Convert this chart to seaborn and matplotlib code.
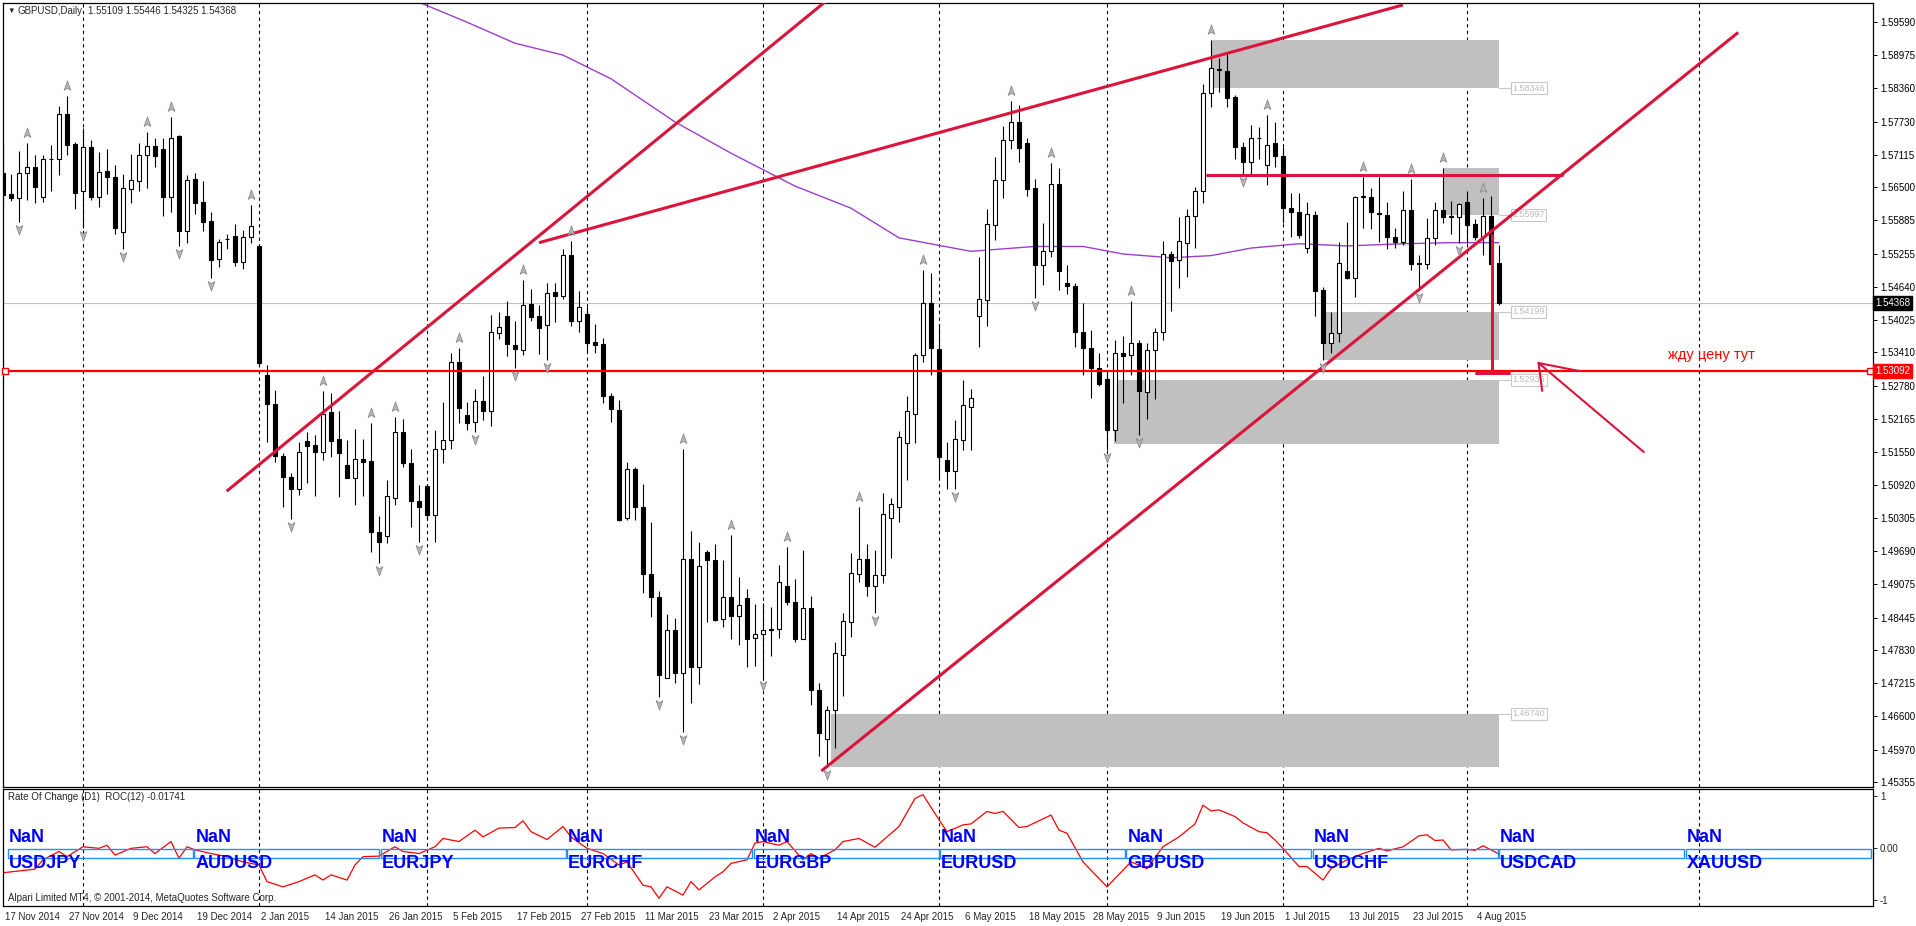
import numpy as np
import matplotlib
matplotlib.use("Agg")
import matplotlib.pyplot as plt
import matplotlib.transforms as mtransforms
from matplotlib.path import Path
from matplotlib.patches import Rectangle
import seaborn as sns

sns.set_style("white")
plt.rcParams['font.family'] = ['Liberation Sans', 'DejaVu Sans']

# ---- GBPUSD daily candles (17 Nov 2014 .. 7 Aug 2015) ----
opens = [1.5678, 1.5638, 1.5630, 1.5677, 1.5688, 1.5633, 1.5703, 1.5703, 1.5786, 1.5731,
         1.5644, 1.5725, 1.5633, 1.5681, 1.5669, 1.5568, 1.5647, 1.5662, 1.5710, 1.5727,
         1.5721, 1.5633, 1.5745, 1.5570, 1.5666, 1.5623, 1.5588, 1.5517, 1.5555, 1.5560,
         1.5513, 1.5558, 1.5542, 1.5303, 1.5249, 1.5152, 1.5114, 1.5092, 1.5180, 1.5173,
         1.5160, 1.5234, 1.5184, 1.5136, 1.5112, 1.5146, 1.5143, 1.5011, 1.5003, 1.5075,
         1.5196, 1.5139, 1.5069, 1.5097, 1.5042, 1.5166, 1.5182, 1.5326, 1.5228, 1.5215,
         1.5254, 1.5236, 1.5381, 1.5412, 1.5358, 1.5349, 1.5434, 1.5412, 1.5395, 1.5456,
         1.5450, 1.5525, 1.5403, 1.5416, 1.5363, 1.5360, 1.5264, 1.5237, 1.5038, 1.5129,
         1.5057, 1.4933, 1.4890, 1.4741, 1.4830, 1.4749, 1.4961, 1.4760, 1.4975, 1.4959,
         1.4850, 1.4890, 1.4856, 1.4889, 1.4815, 1.4822, 1.4829, 1.4832, 1.4912, 1.4882,
         1.4813, 1.4871, 1.4719, 1.4627, 1.4682, 1.4783, 1.4845, 1.4934, 1.4962, 1.4911,
         1.4931, 1.5038, 1.5058, 1.5177, 1.5231, 1.5339, 1.5437, 1.5351, 1.5145, 1.5124,
         1.5182, 1.5244, 1.5412, 1.5442, 1.5580, 1.5665, 1.5739, 1.5771, 1.5733, 1.5649,
         1.5507, 1.5532, 1.5656, 1.5474, 1.5467, 1.5383, 1.5352, 1.5315, 1.5295, 1.5201,
         1.5343, 1.5339, 1.5361, 1.5271, 1.5348, 1.5383, 1.5527, 1.5515, 1.5547, 1.5597,
         1.5644, 1.5826, 1.5870, 1.5866, 1.5818, 1.5725, 1.5698, 1.5743, 1.5693, 1.5732,
         1.5709, 1.5612, 1.5604, 1.5539, 1.5599, 1.5460, 1.5361, 1.5380, 1.5495, 1.5483,
         1.5634, 1.5633, 1.5603, 1.5599, 1.5558, 1.5550, 1.5609, 1.5510, 1.5508, 1.5556,
         1.5609, 1.5597, 1.5596, 1.5624, 1.5583, 1.5558, 1.5598, 1.55109]
highs = [1.5729, 1.5675, 1.5718, 1.5732, 1.5711, 1.5711, 1.5730, 1.5802, 1.5820, 1.5735,
         1.5760, 1.5738, 1.5717, 1.5721, 1.5692, 1.5675, 1.5713, 1.5732, 1.5753, 1.5742,
         1.5742, 1.5782, 1.5748, 1.5674, 1.5678, 1.5663, 1.5604, 1.5555, 1.5564, 1.5583,
         1.5572, 1.5618, 1.5544, 1.5321, 1.5275, 1.5157, 1.5121, 1.5179, 1.5197, 1.5191,
         1.5272, 1.5269, 1.5236, 1.5182, 1.5202, 1.5183, 1.5213, 1.5041, 1.5108, 1.5224,
         1.5221, 1.5165, 1.5099, 1.5100, 1.5201, 1.5253, 1.5343, 1.5353, 1.5253, 1.5277,
         1.5301, 1.5414, 1.5420, 1.5440, 1.5403, 1.5479, 1.5463, 1.5432, 1.5473, 1.5474,
         1.5536, 1.5551, 1.5459, 1.5428, 1.5397, 1.5372, 1.5270, 1.5256, 1.5141, 1.5132,
         1.5100, 1.5030, 1.4901, 1.4859, 1.4851, 1.5165, 1.5013, 1.4992, 1.4978, 1.4989,
         1.4959, 1.5006, 1.4928, 1.4906, 1.4877, 1.4879, 1.4873, 1.4950, 1.4984, 1.4925,
         1.4978, 1.4892, 1.4732, 1.4689, 1.4807, 1.4861, 1.4973, 1.5057, 1.4989, 1.4978,
         1.5084, 1.5074, 1.5199, 1.5264, 1.5343, 1.5498, 1.5491, 1.5398, 1.5178, 1.5220,
         1.5293, 1.5276, 1.5522, 1.5611, 1.5707, 1.5764, 1.5811, 1.5803, 1.5742, 1.5666,
         1.5585, 1.5696, 1.5686, 1.5506, 1.5474, 1.5436, 1.5386, 1.5343, 1.5309, 1.5367,
         1.5375, 1.5440, 1.5367, 1.5362, 1.5389, 1.5552, 1.5533, 1.5596, 1.5611, 1.5651,
         1.5843, 1.5924, 1.5890, 1.5899, 1.5822, 1.5734, 1.5766, 1.5762, 1.5784, 1.5771,
         1.5726, 1.5640, 1.5641, 1.5624, 1.5607, 1.5465, 1.5419, 1.5549, 1.5587, 1.5635,
         1.5670, 1.5649, 1.5670, 1.5624, 1.5576, 1.5643, 1.5667, 1.5525, 1.5593, 1.5624,
         1.5686, 1.5625, 1.5622, 1.5643, 1.5591, 1.5630, 1.5634, 1.55446]
lows = [1.5617, 1.5626, 1.5587, 1.5627, 1.5622, 1.5624, 1.5644, 1.5673, 1.5711, 1.5611,
        1.5575, 1.5628, 1.5615, 1.5638, 1.5565, 1.5537, 1.5622, 1.5643, 1.5649, 1.5689,
        1.5597, 1.5605, 1.5541, 1.5547, 1.5601, 1.5570, 1.5483, 1.5502, 1.5536, 1.5505,
        1.5499, 1.5547, 1.5321, 1.5179, 1.5142, 1.5057, 1.5035, 1.5080, 1.5102, 1.5078,
        1.5145, 1.5151, 1.5077, 1.5111, 1.5061, 1.5078, 1.4975, 1.4954, 1.4990, 1.5061,
        1.5132, 1.5021, 1.4992, 1.5034, 1.4992, 1.5140, 1.5166, 1.5213, 1.5201, 1.5197,
        1.5219, 1.5208, 1.5369, 1.5338, 1.5316, 1.5340, 1.5403, 1.5341, 1.5330, 1.5400,
        1.5443, 1.5393, 1.5383, 1.5346, 1.5344, 1.5251, 1.5216, 1.5032, 1.5034, 1.5033,
        1.4899, 1.4854, 1.4706, 1.4740, 1.4731, 1.4641, 1.4694, 1.4729, 1.4844, 1.4846,
        1.4835, 1.4812, 1.4802, 1.4760, 1.4763, 1.4741, 1.4782, 1.4815, 1.4875, 1.4808,
        1.4812, 1.4691, 1.4595, 1.4575, 1.4611, 1.4707, 1.4817, 1.4919, 1.4892, 1.4861,
        1.4917, 1.4963, 1.5030, 1.5108, 1.5177, 1.5327, 1.5303, 1.5111, 1.5092, 1.5092,
        1.5163, 1.5164, 1.5354, 1.5393, 1.5553, 1.5630, 1.5721, 1.5697, 1.5634, 1.5445,
        1.5470, 1.5521, 1.5460, 1.5453, 1.5354, 1.5302, 1.5260, 1.5283, 1.5163, 1.5180,
        1.5251, 1.5303, 1.5191, 1.5221, 1.5258, 1.5368, 1.5421, 1.5464, 1.5485, 1.5539,
        1.5622, 1.5800, 1.5828, 1.5799, 1.5704, 1.5675, 1.5675, 1.5704, 1.5655, 1.5689,
        1.5585, 1.5559, 1.5556, 1.5529, 1.5412, 1.5330, 1.5343, 1.5363, 1.5480, 1.5448,
        1.5575, 1.5573, 1.5550, 1.5536, 1.5539, 1.5544, 1.5497, 1.5460, 1.5500, 1.5544,
        1.5585, 1.5565, 1.5548, 1.5548, 1.5553, 1.5525, 1.5503, 1.54325]
closes = [1.5636, 1.5630, 1.5678, 1.5688, 1.5652, 1.5703, 1.5704, 1.5786, 1.5730, 1.5641,
          1.5725, 1.5633, 1.5680, 1.5669, 1.5576, 1.5649, 1.5664, 1.5710, 1.5727, 1.5709,
          1.5633, 1.5743, 1.5570, 1.5664, 1.5622, 1.5587, 1.5516, 1.5549, 1.5554, 1.5513,
          1.5558, 1.5579, 1.5325, 1.5248, 1.5153, 1.5113, 1.5091, 1.5160, 1.5171, 1.5160,
          1.5231, 1.5181, 1.5157, 1.5112, 1.5146, 1.5142, 1.5012, 1.4992, 1.5078, 1.5196,
          1.5140, 1.5068, 1.5058, 1.5042, 1.5166, 1.5182, 1.5326, 1.5241, 1.5214, 1.5254,
          1.5236, 1.5382, 1.5392, 1.5360, 1.5351, 1.5432, 1.5411, 1.5389, 1.5454, 1.5450,
          1.5525, 1.5403, 1.5428, 1.5362, 1.5359, 1.5264, 1.5239, 1.5034, 1.5129, 1.5057,
          1.4933, 1.4890, 1.4746, 1.4830, 1.4749, 1.4961, 1.4760, 1.4948, 1.4959, 1.4849,
          1.4890, 1.4856, 1.4875, 1.4813, 1.4822, 1.4829, 1.4832, 1.4919, 1.4882, 1.4813,
          1.4871, 1.4718, 1.4639, 1.4682, 1.4787, 1.4846, 1.4935, 1.4961, 1.4911, 1.4931,
          1.5044, 1.5063, 1.5188, 1.5235, 1.5340, 1.5437, 1.5352, 1.5150, 1.5124, 1.5183,
          1.5246, 1.5260, 1.5444, 1.5582, 1.5665, 1.5739, 1.5771, 1.5723, 1.5648, 1.5507,
          1.5532, 1.5656, 1.5495, 1.5467, 1.5383, 1.5352, 1.5315, 1.5285, 1.5201, 1.5343,
          1.5338, 1.5361, 1.5272, 1.5348, 1.5383, 1.5527, 1.5514, 1.5552, 1.5597, 1.5644,
          1.5825, 1.5872, 1.5869, 1.5817, 1.5725, 1.5698, 1.5743, 1.5742, 1.5730, 1.5709,
          1.5612, 1.5604, 1.5563, 1.5601, 1.5459, 1.5361, 1.5380, 1.5511, 1.5483, 1.5632,
          1.5633, 1.5604, 1.5602, 1.5558, 1.5550, 1.5609, 1.5508, 1.5509, 1.5556, 1.5609,
          1.5596, 1.5596, 1.5619, 1.5581, 1.5558, 1.5598, 1.5508, 1.54368]

# Bill Williams fractals shown on the chart (bar indices)
up_fractals = [3, 8, 18, 21, 31, 40, 46, 49, 57, 65, 71, 85, 91, 98, 107, 115, 126, 131,
               141, 151, 158, 170, 176, 180, 185]
down_fractals = [2, 10, 15, 22, 26, 36, 47, 52, 59, 64, 68, 82, 85, 95, 103, 109, 119, 129,
                 138, 142, 155, 165, 177, 182]

# moving average (purple)
ma_bar = [48, 52, 58, 64, 70, 76, 84, 91, 99, 106, 112, 117, 121, 129, 135, 140, 146, 151,
          156, 162, 168, 175, 181, 187]
ma_val = [1.6020, 1.5994, 1.5957, 1.5918, 1.5896, 1.5852, 1.5772, 1.5714, 1.5653, 1.5612,
          1.5557, 1.5543, 1.5532, 1.5541, 1.5541, 1.5527, 1.5520, 1.5524, 1.5538, 1.5546,
          1.5542, 1.5546, 1.5548, 1.5548]

# Rate of change (12)
roc_bar = [0, 4, 5, 7, 8, 10, 12, 13, 14, 16, 18, 19, 21, 22, 23, 24, 26, 28, 30, 32,
           33, 35, 37, 39, 40, 41, 43, 44, 45, 47, 49, 50, 52, 54, 55, 57, 59, 60, 62, 64,
           65, 66, 68, 70, 71, 73, 75, 77, 78, 80, 81, 82, 83, 85, 86, 87, 89, 90, 91, 93,
           94, 95, 97, 98, 100, 101, 102, 104, 105, 107, 109, 112, 114, 115, 117, 118, 120, 121, 123, 124,
           125, 127, 128, 131, 132, 133, 135, 138, 140, 141, 143, 145, 147, 149, 150, 151, 152, 154, 155, 157,
           158, 159, 160, 162, 163, 165, 166, 168, 170, 172, 173, 175, 177, 178, 179, 180, 181, 183, 184, 185,
           187]
roc_val = [-0.38, -0.31, -0.13, 0.03, -0.07, 0.12, 0.09, 0.15, -0.04, 0.09, 0.12, -0.01, 0.22, -0.10, 0.12, 0.06, -0.01, -0.07, -0.17, -0.23,
           -0.55, -0.65, -0.55, -0.42, -0.52, -0.42, -0.52, -0.23, -0.07, -0.06, 0.12, 0.03, -0.01, 0.12, 0.28, 0.22, 0.44, 0.31, 0.48, 0.49,
           0.62, 0.41, 0.26, 0.51, 0.31, 0.09, -0.01, -0.23, -0.17, -0.62, -0.65, -0.87, -0.65, -0.81, -0.55, -0.71, -0.46, -0.36, -0.20, -0.13,
           0.19, 0.22, 0.15, 0.22, -0.13, -0.01, -0.10, 0.06, 0.22, 0.28, 0.11, 0.51, 1.05, 1.12, 0.64, 0.41, 0.54, 0.56, 0.80, 0.76,
           0.80, 0.49, 0.51, 0.73, 0.44, 0.38, -0.17, -0.65, -0.33, -0.17, -0.30, 0.12, 0.31, 0.56, 0.92, 0.81, 0.83, 0.70, 0.58, 0.41,
           0.39, 0.25, 0.09, -0.26, -0.26, -0.52, -0.30, -0.13, -0.01, 0.09, 0.04, 0.12, 0.33, 0.35, 0.24, 0.25, 0.06, 0.07, 0.05, 0.14,
           -0.02]

date_ticks = list(range(0, 185, 8))
date_labels = ["17 Nov 2014", "27 Nov 2014", "9 Dec 2014", "19 Dec 2014", "2 Jan 2015",
               "14 Jan 2015", "26 Jan 2015", "5 Feb 2015", "17 Feb 2015", "27 Feb 2015",
               "11 Mar 2015", "23 Mar 2015", "2 Apr 2015", "14 Apr 2015", "24 Apr 2015",
               "6 May 2015", "18 May 2015", "28 May 2015", "9 Jun 2015", "19 Jun 2015",
               "1 Jul 2015", "13 Jul 2015", "23 Jul 2015", "4 Aug 2015"]
month_starts = [10, 32, 53, 73, 95, 117, 138, 160, 183, 212]

price_ticks = [1.59590, 1.58975, 1.58360, 1.57730, 1.57115, 1.56500, 1.55885, 1.55255,
               1.54640, 1.54025, 1.53410, 1.52780, 1.52165, 1.51550, 1.50920, 1.50305,
               1.49690, 1.49075, 1.48445, 1.47830, 1.47215, 1.46600, 1.45970, 1.45355]
roc_ticks = [1, 0, -1]
roc_tick_labels = ["1", "0.00", "-1"]

# drawn objects (bar index / price)
zone_x0 = [151.1, 180.0, 165.0, 138.9, 103.5]
zone_x1 = [187.0, 187.0, 187.0, 187.0, 187.0]
zone_lo = [1.58346, 1.55997, 1.53300, 1.51740, 1.45760]
zone_hi = [1.59240, 1.56860, 1.54199, 1.52936, 1.46740]
zone_label_price = [1.58346, 1.55997, 1.54199, 1.52936, 1.46740]

trend_x = [[27.96, 103.2], [67.0, 175.0], [102.3, 216.9]]
trend_y = [[1.5087, 1.6000], [1.5548, 1.5989], [1.4568, 1.5938]]
resist_x, resist_y = [150.5, 194.9], 1.5674
target_x, target_y = 186.1, [1.5562, 1.5310]
target_base_x, target_base_y = [184.1, 188.3], 1.53068
arrow_x = [[205.1, 191.95], [191.95, 197.0], [191.95, 192.4]]
arrow_y = [[1.51597, 1.53248], [1.53248, 1.5310], [1.53248, 1.5273]]
note_x, note_y = 208.1, 1.53405

alert_level = 1.53092
bid_level = 1.54368
symbols = ["USDJPY", "AUDUSD", "EURJPY", "EURCHF", "EURGBP",
           "EURUSD", "GBPUSD", "USDCHF", "USDCAD", "XAUUSD"]

CRIMSON = "#DC143C"
W, H = 1916.0, 926.0
Y_LO, Y_HI = 1.45383, 1.59926          # price range of the main window
PX = (Y_HI - Y_LO) / 784                # price per pixel in this figure

fig = plt.figure(figsize=(19.16, 9.26), dpi=100)
fig.patch.set_facecolor("white")
ax = fig.add_axes([2.5 / W, 1 - 787 / H, 1870.5 / W, 784 / H])
axr = fig.add_axes([2.5 / W, 1 - 906 / H, 1870.5 / W, 117 / H], sharex=ax)

ax.set_xlim(-0.06, 233.75)
ax.set_ylim(Y_LO, Y_HI)
axr.set_ylim(-1.019, 1.231)

bars = np.arange(len(opens))
o, h, l, c = map(np.array, (opens, highs, lows, closes))
bull = c >= o

# month separators
for a in (ax, axr):
    for m in month_starts:
        a.axvline(m, color="black", lw=0.8, ls=(0, (3, 3)), zorder=0.5)

# grey zones
for x0, x1, lo, hi in zip(zone_x0, zone_x1, zone_lo, zone_hi):
    ax.add_patch(Rectangle((x0, lo), x1 - x0, hi - lo, facecolor="#C0C0C0",
                           edgecolor="none", zorder=1))
for p in zone_label_price:
    ax.plot([187.0, 188.5], [p, p], color="#C8C8C8", lw=0.8, zorder=1)
    ax.text(188.7, p, f"{p:.5f}", fontsize=6.5, color="#BDBDBD", va="center", ha="left",
            bbox=dict(boxstyle="square,pad=0.15", fc="white", ec="#C8C8C8", lw=0.8), zorder=1.2)

# bid line and alert line
ax.axhline(bid_level, color="#C0C0C0", lw=0.8, zorder=1.5)
ax.axhline(alert_level, color="#FF0000", lw=1.6, zorder=5)
ax.plot([0.25, 233.4], [alert_level, alert_level], ls="", marker="s", ms=3.8,
        mfc="white", mec="#FF0000", mew=1.0, zorder=6, clip_on=False)

# moving average
sns.lineplot(x=ma_bar, y=ma_val, ax=ax, color="#9A3FD0", lw=1.0, estimator=None,
             sort=False, zorder=2.5)

# candles
ax.vlines(bars, l, h, color="black", lw=0.8, zorder=3)
ax.bar(bars, np.abs(c - o), bottom=np.minimum(o, c), width=0.5,
       color=np.where(bull, "white", "black"), edgecolor="black", linewidth=0.8, zorder=4)

# fractals
up_arrow = Path([(0, 1), (0.6, -0.7), (0, -0.3), (-0.6, -0.7), (0, 1)],
                [Path.MOVETO, Path.LINETO, Path.LINETO, Path.LINETO, Path.CLOSEPOLY])
down_arrow = Path([(0, -1), (0.6, 0.7), (0, 0.3), (-0.6, 0.7), (0, -1)],
                  [Path.MOVETO, Path.LINETO, Path.LINETO, Path.LINETO, Path.CLOSEPOLY])
t_up = mtransforms.offset_copy(ax.transData, fig=fig, x=0, y=10, units="dots")
t_dn = mtransforms.offset_copy(ax.transData, fig=fig, x=0, y=-7, units="dots")
ax.plot(up_fractals, h[up_fractals], ls="", marker=up_arrow, ms=8, mfc="#B8B8B8",
        mec="#8A8A8A", mew=0.6, transform=t_up, zorder=6)
ax.plot(down_fractals, l[down_fractals], ls="", marker=down_arrow, ms=8, mfc="#B8B8B8",
        mec="#8A8A8A", mew=0.6, transform=t_dn, zorder=6)

# hand drawn lines
for xs, ys in zip(trend_x, trend_y):
    ax.plot(xs, ys, color=CRIMSON, lw=2.2, solid_capstyle="butt", zorder=5)
ax.plot(resist_x, [resist_y, resist_y], color=CRIMSON, lw=2.2, zorder=5)
ax.plot([target_x, target_x], target_y, color=CRIMSON, lw=2.2, zorder=5)
ax.plot(target_base_x, [target_base_y, target_base_y], color=CRIMSON, lw=2.2, zorder=5)
for xs, ys in zip(arrow_x, arrow_y):
    ax.plot(xs, ys, color=CRIMSON, lw=1.5, zorder=5)
ax.text(note_x, note_y, "жду цену тут", color="#FF0000", fontsize=10.5, va="center", ha="left")

# price axis: MT4 prints the scale labels a few pixels above their level,
# with a step of 33 px per 0.0062
step_px = 33.05 / 0.00619
tick_pos = [Y_LO + (4.5 + (p - price_ticks[-1]) * step_px) * PX for p in price_ticks]
ax.yaxis.tick_right()
ax.set_yticks(tick_pos)
ax.set_yticklabels([f"{p:.5f}" for p in price_ticks])
ax.tick_params(axis="y", direction="out", length=3, width=0.7, labelsize=7, pad=2,
               colors="black")
ax.tick_params(axis="x", bottom=False, labelbottom=False)
blend = mtransforms.blended_transform_factory(ax.transAxes, ax.transData)
for lvl, fc in ((bid_level, "black"), (alert_level, "#FF0000")):
    ax.text(1.0012, lvl, f"{lvl:.5f}", transform=blend, color="white", fontsize=7,
            va="center", ha="left", bbox=dict(boxstyle="square,pad=0.2", fc=fc, ec=fc),
            clip_on=False, zorder=7)

# header
fig.text(7 / W, 1 - 11 / H, "▼", fontsize=5.5, va="center", ha="left")
fig.text(18 / W, 1 - 11 / H, "GBPUSD,Daily", fontsize=7, va="center", ha="left")
fig.text(88 / W, 1 - 11 / H, f"{opens[-1]:.5f} {highs[-1]:.5f} {lows[-1]:.5f} {closes[-1]:.5f}",
         fontsize=7, va="center", ha="left")

# ---- indicator window ----
sns.lineplot(x=roc_bar, y=roc_val, ax=axr, color="#FF0000", lw=0.9, estimator=None,
             sort=False, zorder=2)
axr.yaxis.tick_right()
rshift = 5.4 / 52
axr.set_yticks([v + rshift for v in roc_ticks])
axr.set_yticklabels(roc_tick_labels)
axr.tick_params(axis="y", direction="out", length=3, width=0.7, labelsize=7, pad=2)
axr.set_xticks(date_ticks)
axr.set_xticklabels(date_labels, ha="left")
axr.tick_params(axis="x", direction="out", length=3, width=0.7, labelsize=7, pad=1.5)
nudge = mtransforms.ScaledTranslation(2 / 100, 0, fig.dpi_scale_trans)
for lab in axr.get_xticklabels():
    lab.set_transform(lab.get_transform() + nudge)

axr.text(5 / 1870.5, 1 - 8.5 / 117, "Rate Of Change (D1)  ROC(12) -0.01741",
         transform=axr.transAxes, fontsize=7, va="center", ha="left")
axr.text(5 / 1870.5, 8 / 117, "Alpari Limited MT4, © 2001-2014, MetaQuotes Software Corp.",
         transform=axr.transAxes, fontsize=7, va="center", ha="left")

rblend = mtransforms.blended_transform_factory(axr.transAxes, axr.transData)
for i, sym in enumerate(symbols):
    x0 = (8 + 186.4 * i - 2.5) / 1870.5
    axr.add_patch(Rectangle((x0, -0.096), 185 / 1870.5, 0.173, transform=rblend,
                            fill=False, edgecolor="#1E90FF", lw=1.0, zorder=3))
    axr.text(x0 + 1 / 1870.5, 0.29, "NaN", transform=rblend, color="#0000FF",
             fontsize=13, fontweight="bold", va="center", ha="left", zorder=4)
    axr.text(x0 + 1 / 1870.5, -0.20, sym, transform=rblend, color="#0000FF",
             fontsize=13, fontweight="bold", va="center", ha="left", zorder=4)

for a in (ax, axr):
    a.set_xlabel("")
    a.set_ylabel("")
    for s in a.spines.values():
        s.set_color("black")
        s.set_linewidth(0.9)
    a.set_facecolor("white")

fig.savefig("out.png", dpi=100)
